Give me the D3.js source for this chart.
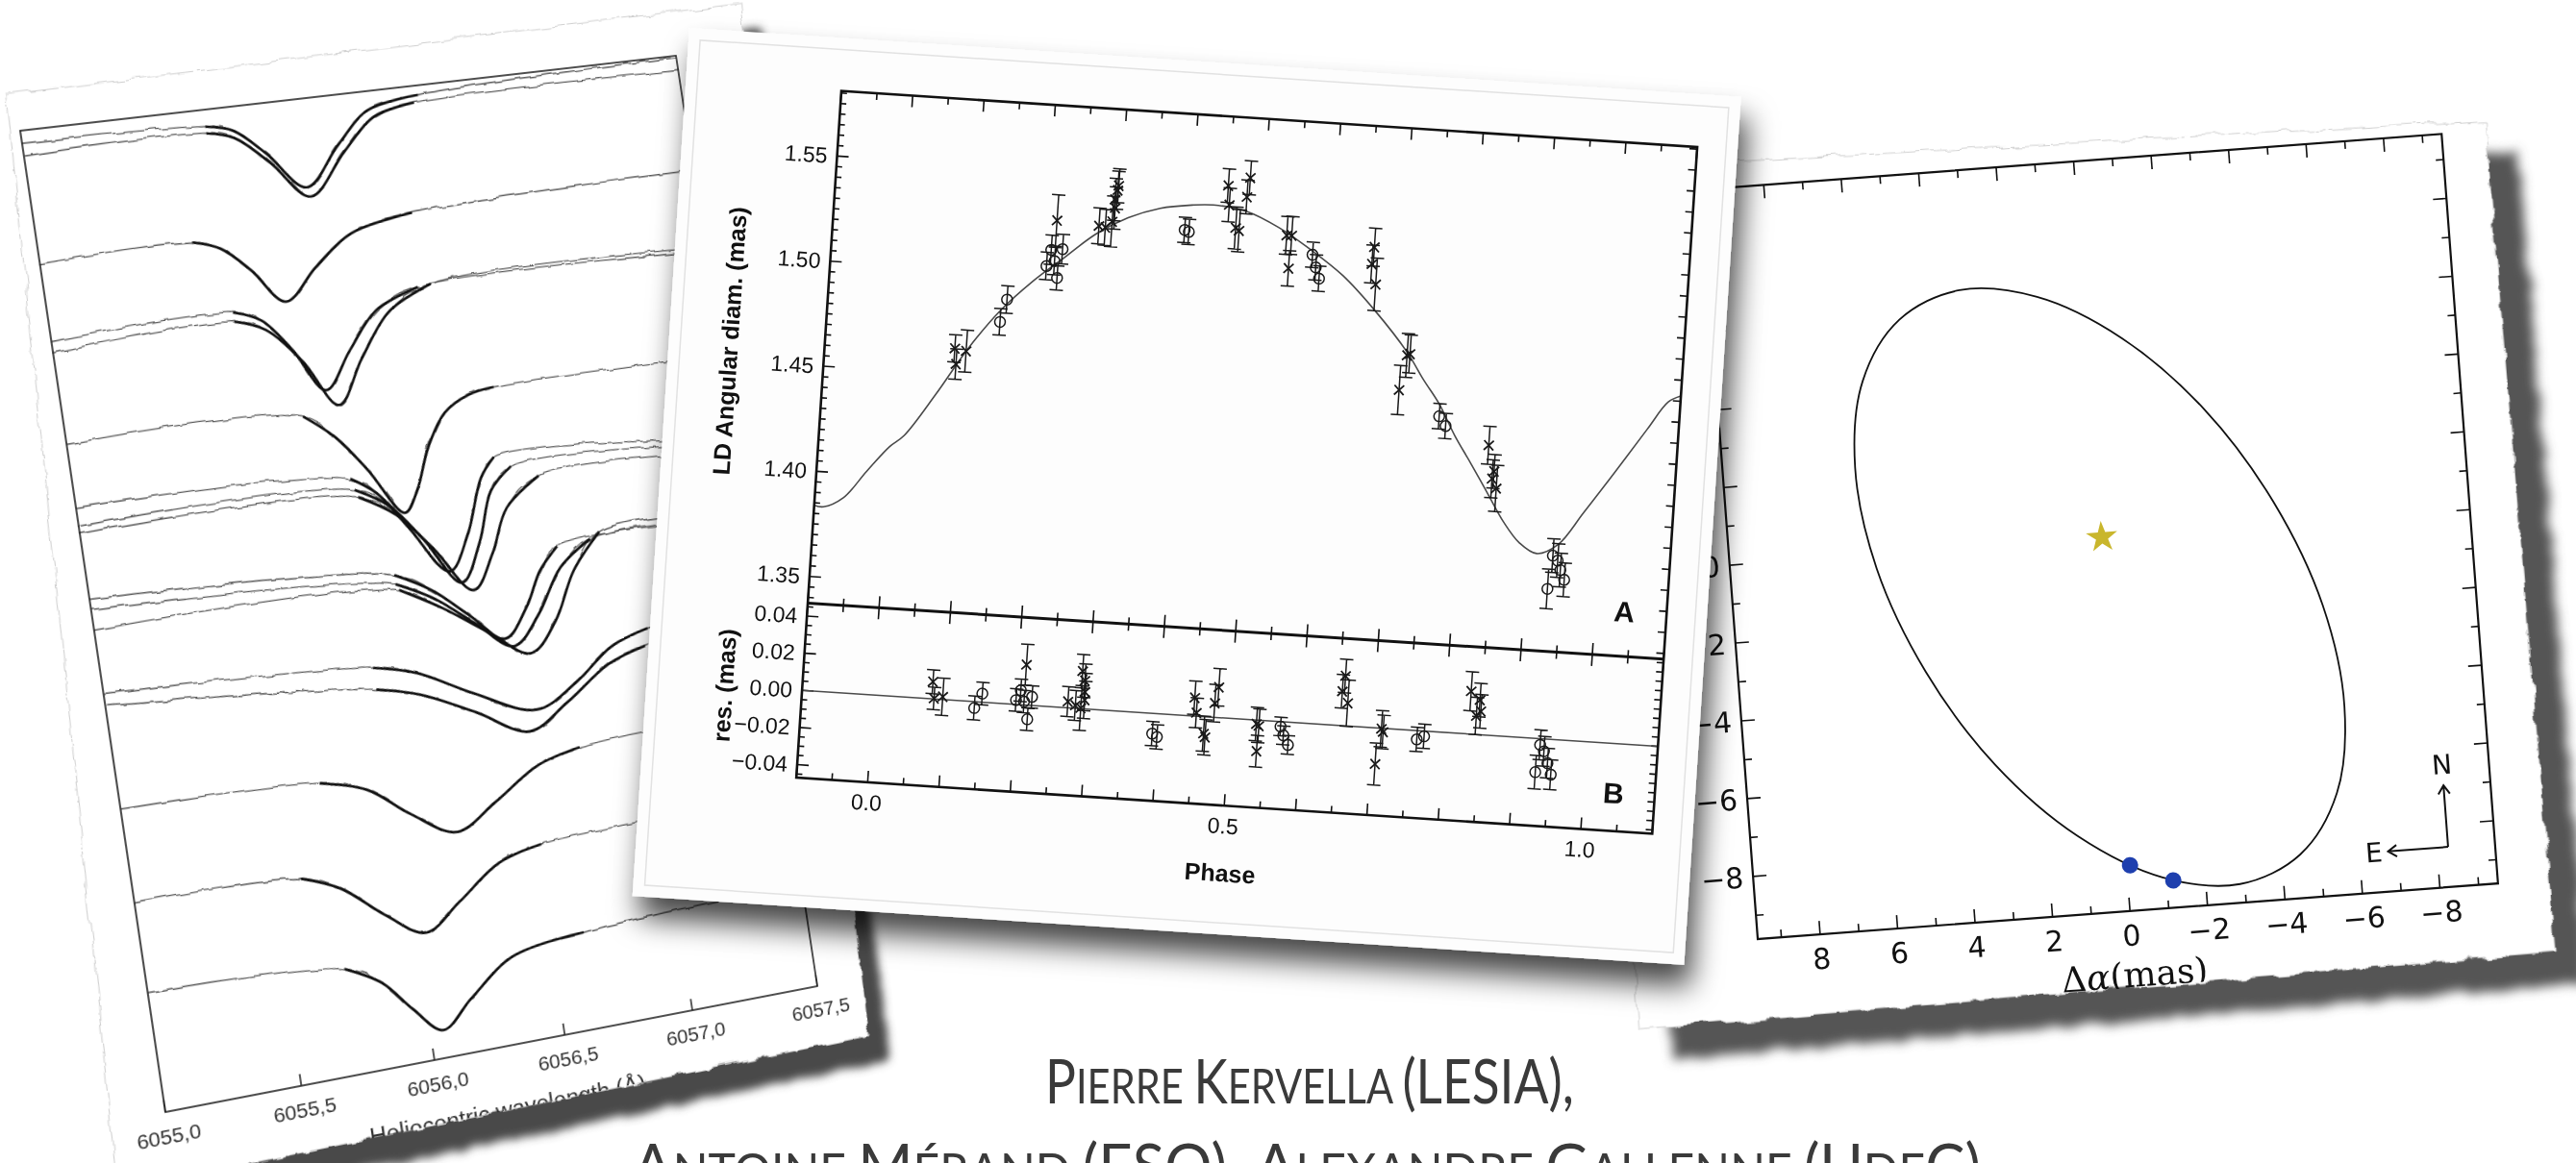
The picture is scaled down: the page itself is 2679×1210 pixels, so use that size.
<!DOCTYPE html>
<html>
<head>
<meta charset="utf-8">
<script src="https://cdn.jsdelivr.net/npm/d3@7"></script>
<style>
  html, body { margin:0; padding:0; background:#ffffff; }
  body { width:2679px; height:1210px; overflow:hidden; position:relative; }
  #spectraSheet { position:absolute; left:0; top:0; transform-origin:0 0; }
  #slide { position:absolute; left:0; top:0; }
</style>
</head>
<body>
<div id="spectraSheet"></div>
<svg id="slide" width="2679" height="1210"></svg>
<script>
// ================= data =================

// Fe I 6056 Å line: fitted model segments [wavelength (Å), relative flux + offset]
const lineProfiles = [
  [[6055.67,19.65],[6055.77,19.5],[6055.88,18.95],[6056.01,18.16],[6056.15,18.95],[6056.28,19.6],[6056.48,19.8]],
  [[6055.67,19.51],[6055.77,19.35],[6055.89,18.75],[6056.02,17.96],[6056.17,18.8],[6056.3,19.45],[6056.46,19.65]],
  [[6055.56,17.32],[6055.66,17.12],[6055.76,16.6],[6055.87,15.87],[6056.0,16.5],[6056.15,17.1],[6056.39,17.37]],
  [[6055.67,15.79],[6055.77,15.55],[6055.87,14.85],[6055.97,13.95],[6056.08,14.7],[6056.2,15.45],[6056.37,15.82]],
  [[6055.67,15.6],[6055.78,15.35],[6055.9,14.6],[6056.01,13.61],[6056.12,14.5],[6056.25,15.4],[6056.42,15.85]],
  [[6055.87,13.48],[6055.98,12.95],[6056.08,12.2],[6056.195,11.21],[6056.25,11.6],[6056.32,12.5],[6056.40,13.15],[6056.5,13.45],[6056.6,13.54]],
  [[6056.01,12.07],[6056.1,11.7],[6056.2,10.9],[6056.33,9.87],[6056.42,10.6],[6056.5,11.7],[6056.56,12.09]],
  [[6056.02,11.83],[6056.14,11.4],[6056.25,10.6],[6056.37,9.60],[6056.46,10.4],[6056.53,11.4],[6056.62,11.85]],
  [[6056.03,11.67],[6056.16,11.2],[6056.28,10.4],[6056.41,9.41],[6056.5,10.1],[6056.58,11.0],[6056.72,11.57]],
  [[6056.12,9.97],[6056.25,9.55],[6056.38,8.9],[6056.50,8.31],[6056.6,8.9],[6056.67,9.6],[6056.75,10.05]],
  [[6056.12,9.78],[6056.26,9.35],[6056.4,8.7],[6056.53,8.13],[6056.64,8.7],[6056.75,9.6],[6056.88,10.1]],
  [[6056.13,9.65],[6056.28,9.15],[6056.44,8.5],[6056.59,7.93],[6056.7,8.5],[6056.8,9.5],[6056.92,10.22]],
  [[6055.99,8.15],[6056.15,7.9],[6056.35,7.3],[6056.58,6.75],[6056.75,7.2],[6056.9,7.8],[6057.05,8.06]],
  [[6055.99,7.7],[6056.15,7.45],[6056.35,6.9],[6056.54,6.33],[6056.7,6.8],[6056.88,7.45],[6057.03,7.7]],
  [[6055.73,5.99],[6055.9,5.7],[6056.05,5.05],[6056.21,4.53],[6056.37,5.0],[6056.55,5.6],[6056.72,5.83]],
  [[6055.61,4.14],[6055.75,3.8],[6055.9,3.1],[6056.04,2.60],[6056.18,3.1],[6056.35,3.75],[6056.52,3.98]],
  [[6055.72,2.17],[6055.85,1.75],[6055.95,1.1],[6056.05,0.57],[6056.17,1.1],[6056.35,1.8],[6056.63,2.02]]
];
// observed spectrum continuum at 6055.0 Å and 6057.5 Å (same order as above)
const continuumEnds = [[19.74,19.96],[19.48,19.68],[17.27,17.53],[15.68,15.78],[15.45,15.86],[13.58,13.55],
  [12.29,11.71],[11.91,11.63],[11.76,11.47],[10.42,10.05],[10.21,10.1],[9.79,10.22],[8.5,8.3],[8.27,7.9],
  [6.15,6.0],[4.26,4.1],[2.42,2.2]];
const wavelengthTicks = [6055.0, 6055.5, 6056.0, 6056.5, 6057.0, 6057.5];

// Limb-darkened angular diameter vs pulsation phase
const diamModel = [[-0.1,1.3838],[-0.087,1.3834],[-0.06,1.3883],[-0.03,1.4015],[0.0,1.414],[0.019,1.4196],
  [0.06,1.4404],[0.1,1.4626],[0.142,1.4818],[0.184,1.4965],[0.226,1.5088],[0.269,1.5212],[0.312,1.5298],
  [0.356,1.5353],[0.4,1.5378],[0.43,1.5385],[0.477,1.5365],[0.523,1.5299],[0.57,1.5203],[0.617,1.5091],
  [0.665,1.4935],[0.714,1.4747],[0.739,1.4623],[0.763,1.4514],[0.788,1.4367],[0.813,1.424],[0.839,1.4104],
  [0.864,1.3973],[0.888,1.3879],[0.913,1.3834],[0.942,1.3883],[0.975,1.4043],[1.016,1.425],[1.056,1.4457],
  [1.083,1.4593],[1.1,1.4625]];
// [phase, diameter (mas), error, marker]
const diamObs = [
  [0.082,1.4625,0.0065,'x'],[0.098,1.4616,0.0100,'x'],[0.085,1.4551,0.0072,'x'],
  [0.1504,1.4873,0.0065,'o'],[0.1426,1.4765,0.0063,'o'],
  [0.213,1.5263,0.0122,'x'],[0.2076,1.5122,0.0070,'o'],[0.2233,1.5129,0.0070,'o'],[0.2024,1.5044,0.0065,'o'],
  [0.2182,1.4991,0.0058,'o'],[0.2132,1.5070,0.0065,'o'],
  [0.272,1.5250,0.0085,'x'],[0.281,1.5245,0.0085,'x'],[0.290,1.5275,0.0120,'x'],[0.293,1.5340,0.0100,'x'],
  [0.295,1.5425,0.0090,'x'],[0.296,1.5447,0.0080,'x'],[0.292,1.5380,0.0100,'x'],
  [0.392,1.5258,0.0060,'o'],[0.398,1.5250,0.0060,'o'],
  [0.449,1.5481,0.0080,'x'],[0.452,1.5390,0.0080,'x'],[0.463,1.5283,0.0100,'x'],[0.468,1.5271,0.0100,'x'],
  [0.476,1.5433,0.0080,'x'],[0.479,1.5525,0.0080,'x'],
  [0.535,1.5263,0.0090,'x'],[0.542,1.5265,0.0090,'x'],[0.5405,1.5108,0.0084,'x'],
  [0.5728,1.5180,0.0060,'o'],[0.5784,1.5121,0.0060,'o'],[0.584,1.5069,0.0060,'o'],
  [0.6585,1.5235,0.0090,'x'],[0.6565,1.5154,0.0090,'x'],[0.6637,1.5059,0.0125,'x'],
  [0.714,1.4732,0.0104,'x'],[0.706,1.4566,0.0117,'x'],[0.718,1.4740,0.0090,'x'],
  [0.7644,1.4454,0.0060,'o'],[0.7742,1.4410,0.0060,'o'],
  [0.8363,1.4332,0.0090,'x'],[0.8439,1.4174,0.0090,'x'],[0.8506,1.4130,0.0110,'x'],[0.846,1.4210,0.0080,'x'],
  [0.9359,1.3829,0.0080,'o'],[0.9431,1.3807,0.0080,'o'],[0.9476,1.3763,0.0080,'o'],[0.9539,1.3718,0.0080,'o'],
  [0.9313,1.3670,0.0094,'o']
];
// [phase, residual (mas), error, marker]
const resObs = [
  [0.082,0.0092,0.0064,'x'],[0.097,0.0015,0.0100,'x'],[0.085,0.0003,0.0060,'x'],
  [0.152,0.0046,0.0060,'o'],[0.142,-0.0034,0.0064,'o'],
  [0.211,0.0216,0.0110,'x'],[0.2054,0.0077,0.0060,'o'],[0.1996,0.0023,0.0060,'o'],[0.2109,0.0018,0.0060,'o'],
  [0.2217,0.0046,0.0060,'o'],[0.217,-0.0076,0.0060,'o'],
  [0.2722,0.0033,0.0080,'x'],[0.2829,0.0015,0.0080,'x'],[0.290,0.0201,0.0090,'x'],[0.294,0.0151,0.0090,'x'],
  [0.2951,0.0091,0.0100,'x'],[0.2955,0.0048,0.0100,'x'],[0.2907,0.0003,0.0120,'x'],
  [0.3928,-0.0109,0.0065,'o'],[0.3996,-0.0125,0.0065,'o'],
  [0.449,0.0098,0.0090,'x'],[0.4526,0.0018,0.0080,'x'],[0.4644,-0.0091,0.0095,'x'],[0.4668,-0.0110,0.0095,'x'],
  [0.4774,0.0076,0.0100,'x'],[0.4817,0.0163,0.0100,'x'],
  [0.5374,-0.0021,0.0090,'x'],[0.541,-0.0030,0.0090,'x'],[0.540,-0.0167,0.0085,'x'],
  [0.5713,-0.0026,0.0050,'o'],[0.576,-0.0072,0.0050,'o'],[0.5833,-0.0122,0.0050,'o'],
  [0.6575,0.0268,0.0090,'x'],[0.6544,0.0184,0.0090,'x'],[0.663,0.0123,0.0125,'x'],
  [0.7124,-0.0003,0.0098,'x'],[0.7067,-0.0194,0.0113,'x'],[0.715,-0.0019,0.0090,'x'],
  [0.7627,-0.0047,0.0065,'o'],[0.7726,-0.0028,0.0065,'o'],
  [0.8343,0.0230,0.0105,'x'],[0.8474,0.0186,0.0090,'x'],[0.8496,0.0126,0.0090,'x'],[0.8437,0.0099,0.0100,'x'],
  [0.9354,-0.0033,0.0080,'o'],[0.9413,-0.0066,0.0080,'o'],[0.9473,-0.0129,0.0080,'o'],[0.9529,-0.0189,0.0080,'o'],
  [0.9311,-0.0181,0.0090,'o']
];
const diamTicks = [1.35, 1.40, 1.45, 1.50, 1.55];
const resTicks = [-0.04, -0.02, 0.00, 0.02, 0.04];
const phaseTicks = [0.0, 0.5, 1.0];

// Companion orbit: relative astrometry [Δα, Δδ] in mas
const orbitTrack = [[6.20,2.25],[5.84,4.45],[4.78,5.95],[3.18,6.59],[1.20,6.27],[-0.90,5.05],[-2.88,3.07],
  [-4.48,0.56],[-5.54,-2.17],[-5.90,-4.79],[-5.54,-6.99],[-4.48,-8.49],[-2.88,-9.13],[-0.90,-8.81],
  [1.20,-7.59],[3.18,-5.61],[4.78,-3.10],[5.84,-0.37]];
const orbitEpochs = [[-0.09,-8.44],[-1.17,-8.91]];
const primaryPos = [0, 0];
const orbitTicks = [-8, -6, -4, -2, 0, 2, 4, 6, 8];

// ================= helpers =================
const fmtMinus = s => s.replace('-', '\u2212');

function tornFilter(defs, id, scale, blur) {
  const f = defs.append('filter').attr('id', id)
    .attr('x', '-8%').attr('y', '-8%').attr('width', '116%').attr('height', '116%');
  f.append('feTurbulence').attr('type', 'fractalNoise').attr('baseFrequency', 0.04)
    .attr('numOctaves', 4).attr('seed', 5).attr('result', 'n');
  f.append('feDisplacementMap').attr('in', 'SourceGraphic').attr('in2', 'n').attr('scale', scale)
    .attr('xChannelSelector', 'R').attr('yChannelSelector', 'G').attr('result', 'd');
  if (blur) f.append('feGaussianBlur').attr('in', 'd').attr('stdDeviation', blur);
}

// projective map of a w×h rectangle at (x0,y0) onto a quadrilateral (TL, TR, BR, BL)
function quadMatrix(q, x0, y0, w, h) {
  const [[X0,Y0],[X1,Y1],[X2,Y2],[X3,Y3]] = q;
  const dx1 = X1 - X2, dx2 = X3 - X2, dx3 = X0 - X1 + X2 - X3;
  const dy1 = Y1 - Y2, dy2 = Y3 - Y2, dy3 = Y0 - Y1 + Y2 - Y3;
  const den = dx1 * dy2 - dx2 * dy1;
  const g = (dx3 * dy2 - dx2 * dy3) / den, hh = (dx1 * dy3 - dx3 * dy1) / den;
  const a = X1 - X0 + g * X1, b = X3 - X0 + hh * X3, c = X0;
  const d = Y1 - Y0 + g * Y1, e = Y3 - Y0 + hh * Y3, f = Y0;
  const m = [
    [a / w, b / h, c - a * x0 / w - b * y0 / h],
    [d / w, e / h, f - d * x0 / w - e * y0 / h],
    [g / w, hh / h, 1 - g * x0 / w - hh * y0 / h]
  ];
  return `matrix3d(${m[0][0]},${m[1][0]},0,${m[2][0]},${m[0][1]},${m[1][1]},0,${m[2][1]},0,0,1,0,${m[0][2]},${m[1][2]},0,${m[2][2]})`;
}

function segs(g, list) {
  return g.selectAll(null).data(list).join('line')
    .attr('x1', d => d[0]).attr('y1', d => d[1]).attr('x2', d => d[2]).attr('y2', d => d[3]);
}

// ================= spectra sheet (left) =================
(function () {
  const W = 690, H = 1000, M = 160;
  const quad = [[21, 136], [703, 58], [850, 1026], [172, 1157]];
  const div = d3.select('#spectraSheet')
    .style('width', (W + 2 * M) + 'px').style('height', (H + 2 * M) + 'px')
    .style('transform', quadMatrix(quad, M, M, W, H));
  const svg = div.append('svg').attr('width', W + 2 * M).attr('height', H + 2 * M);
  const defs = svg.append('defs');
  tornFilter(defs, 'tornL', 9, 0);
  tornFilter(defs, 'tornShadowL', 9, 5);
  const wig = defs.append('filter').attr('id', 'wiggle').attr('x', '-2%').attr('y', '-2%')
    .attr('width', '104%').attr('height', '104%');
  wig.append('feTurbulence').attr('type', 'fractalNoise').attr('baseFrequency', '0.06 0.03')
    .attr('numOctaves', 2).attr('seed', 11).attr('result', 'n');
  wig.append('feDisplacementMap').attr('in', 'SourceGraphic').attr('in2', 'n').attr('scale', 6)
    .attr('xChannelSelector', 'R').attr('yChannelSelector', 'G');

  const paper = [[M - 8, M - 38], [M + W + 80, M - 48], [M + W + 48, M + H + 62], [M - 58, M + H + 68]];
  const paperPath = 'M' + paper.map(p => p.join(',')).join('L') + 'Z';
  const shadowPath = 'M' + paper.map(p => [p[0] + 18, p[1] + 30].join(',')).join('L') + 'Z';
  svg.append('path').attr('d', shadowPath).attr('fill', '#4a4a4a').attr('filter', 'url(#tornShadowL)');
  svg.append('path').attr('d', paperPath).attr('fill', '#ffffff').attr('stroke', '#cfcfcf')
    .attr('stroke-width', 1).attr('filter', 'url(#tornL)');
  defs.append('clipPath').attr('id', 'paperClipL').append('path').attr('d', paperPath);

  const g = svg.append('g').attr('clip-path', 'url(#paperClipL)');
  const x = d3.scaleLinear([6055.0, 6057.5], [M, M + W]);
  const y = d3.scaleLinear([0, 20], [M + H, M]);
  const line = d3.line().x(d => x(d[0])).y(d => y(d[1])).curve(d3.curveCatmullRom.alpha(0.5));

  const thin = g.append('g').attr('filter', 'url(#wiggle)');
  thin.selectAll('path').data(lineProfiles).join('path')
    .attr('d', (p, i) => line([[6055.0, continuumEnds[i][0]], ...p, [6057.5, continuumEnds[i][1]]]))
    .attr('fill', 'none').attr('stroke', '#5a5a5a').attr('stroke-width', 1.3);
  g.append('g').selectAll('path').data(lineProfiles).join('path')
    .attr('d', line).attr('fill', 'none').attr('stroke', '#111').attr('stroke-width', 2.7);

  g.append('rect').attr('x', M).attr('y', M).attr('width', W).attr('height', H)
    .attr('fill', 'none').attr('stroke', '#222').attr('stroke-width', 1.6);
  segs(g, wavelengthTicks.map(t => [x(t), M + H, x(t), M + H - 12]))
    .attr('stroke', '#222').attr('stroke-width', 1.5);
  g.append('g').selectAll('text').data(wavelengthTicks).join('text')
    .attr('x', d => x(d)).attr('y', M + H + 32).attr('text-anchor', 'middle')
    .attr('font-family', '"Liberation Sans", Arial, sans-serif').attr('font-size', 21).attr('fill', '#333')
    .text(d => d.toFixed(1).replace('.', ','));
  g.append('text').attr('x', M + W / 2).attr('y', M + H + 73).attr('text-anchor', 'middle')
    .attr('font-family', '"Liberation Sans", Arial, sans-serif').attr('font-size', 24).attr('fill', '#333')
    .text('Heliocentric wavelength (Å)');
})();

// ================= slide layer =================
const slide = d3.select('#slide');
const defs = slide.append('defs');
const cs = defs.append('filter').attr('id', 'cardShadow')
  .attr('x', '-15%').attr('y', '-15%').attr('width', '135%').attr('height', '135%');
cs.append('feDropShadow').attr('dx', 8).attr('dy', 22).attr('stdDeviation', 15)
  .attr('flood-color', '#000').attr('flood-opacity', 0.72);
tornFilter(defs, 'tornR', 10, 0);
tornFilter(defs, 'tornShadowR', 10, 6);

// ---------- orbit sheet (right) ----------
(function () {
  const RW = 772, RH = 782;
  const g0 = slide.append('g').attr('transform', 'translate(1769.4,197.2) rotate(-4.3)');
  const paper = [[-130, -30], [818, -10], [826, 858], [-130, 866]];
  const paperPath = 'M' + paper.map(p => p.join(',')).join('L') + 'Z';
  const shadowPath = 'M' + paper.map(p => [p[0] + 32, p[1] + 34].join(',')).join('L') + 'Z';
  g0.append('path').attr('d', shadowPath).attr('fill', '#555').attr('filter', 'url(#tornShadowR)');
  g0.append('path').attr('d', paperPath).attr('fill', '#ffffff').attr('stroke', '#d0d0d0')
    .attr('stroke-width', 1).attr('filter', 'url(#tornR)');
  defs.append('clipPath').attr('id', 'paperClipR').append('path').attr('d', paperPath);
  const g = g0.append('g').attr('clip-path', 'url(#paperClipR)');

  const x = d3.scaleLinear([9.61, -9.5], [0, RW]);
  const y = d3.scaleLinear([9.66, -9.61], [0, RH]);
  const ks = d3.range(-9, 10);
  const len = k => (k % 2 === 0 ? 14 : 8);
  const ax = g.append('g').attr('stroke', '#111').attr('stroke-width', 1.6);
  segs(ax, ks.map(k => [x(k), RH, x(k), RH - len(k)]));
  segs(ax, ks.map(k => [x(k), 0, x(k), len(k)]));
  segs(ax, ks.map(k => [0, y(k), len(k), y(k)]));
  segs(ax, ks.map(k => [RW, y(k), RW - len(k), y(k)]));
  g.append('rect').attr('width', RW).attr('height', RH).attr('fill', 'none')
    .attr('stroke', '#111').attr('stroke-width', 2.2);

  const font = '"DejaVu Sans", sans-serif';
  g.append('g').selectAll('text').data(orbitTicks).join('text')
    .attr('x', d => x(d)).attr('y', RH + 36).attr('text-anchor', 'middle')
    .attr('font-family', font).attr('font-size', 30).attr('fill', '#111')
    .text(d => fmtMinus(String(d)));
  g.append('g').selectAll('text').data(orbitTicks).join('text')
    .attr('x', -10).attr('y', d => y(d) + 11).attr('text-anchor', 'end')
    .attr('font-family', font).attr('font-size', 30).attr('fill', '#111')
    .text(d => fmtMinus(String(d)));
  const lab = g.append('text').attr('x', x(0)).attr('y', RH + 79).attr('text-anchor', 'middle')
    .attr('font-family', '"DejaVu Serif", "Liberation Serif", serif').attr('font-size', 36).attr('fill', '#111');
  lab.append('tspan').text('Δ');
  lab.append('tspan').attr('font-style', 'italic').text('α');
  lab.append('tspan').text('(mas)');

  g.append('path').datum(orbitTrack)
    .attr('d', d3.line().x(d => x(d[0])).y(d => y(d[1])).curve(d3.curveCatmullRomClosed.alpha(0.5)))
    .attr('fill', 'none').attr('stroke', '#111').attr('stroke-width', 1.8);
  g.append('path').attr('d', d3.symbol(d3.symbolStar, 330)())
    .attr('transform', `translate(${x(primaryPos[0])},${y(primaryPos[1])})`).attr('fill', '#c9b62c');
  g.selectAll('circle.ep').data(orbitEpochs).join('circle').attr('class', 'ep')
    .attr('cx', d => x(d[0])).attr('cy', d => y(d[1])).attr('r', 8.5).attr('fill', '#1e3fae');

  // compass
  const c0 = [x(-8.29), y(-8.58)], nTip = [x(-8.29), y(-7.0)], eTip = [x(-6.74), y(-8.58)];
  const cp = g.append('g').attr('stroke', '#111').attr('stroke-width', 2).attr('fill', 'none');
  cp.append('path').attr('d', `M${c0[0]},${c0[1]}L${nTip[0]},${nTip[1]}M${nTip[0] - 6},${nTip[1] + 9}L${nTip[0]},${nTip[1]}L${nTip[0] + 6},${nTip[1] + 9}`);
  cp.append('path').attr('d', `M${c0[0]},${c0[1]}L${eTip[0]},${eTip[1]}M${eTip[0] + 9},${eTip[1] - 6}L${eTip[0]},${eTip[1]}L${eTip[0] + 9},${eTip[1] + 6}`);
  g.append('text').attr('x', nTip[0]).attr('y', nTip[1] - 12).attr('text-anchor', 'middle')
    .attr('font-family', font).attr('font-size', 28).attr('fill', '#111').text('N');
  g.append('text').attr('x', eTip[0] - 6).attr('y', eTip[1] + 10).attr('text-anchor', 'end')
    .attr('font-family', font).attr('font-size', 28).attr('fill', '#111').text('E');
})();

// ---------- angular diameter card (centre) ----------
(function () {
  const PW = 892, PH = 716, PA = 534;
  const x = d3.scaleLinear([-0.1, 1.1], [0, PW]);
  const yA = d3.scaleLinear([1.3373, 1.581], [PA, 0]);
  const yB = d3.scaleLinear([-0.047, 0.047], [PH, PA]);
  const card = slide.append('g').attr('transform', 'translate(875,94.6) rotate(3.75)');
  card.append('rect').attr('x', -162).attr('y', -55).attr('width', 1096).attr('height', 905)
    .attr('fill', '#fdfdfd').attr('filter', 'url(#cardShadow)');
  card.append('rect').attr('x', -150).attr('y', -43).attr('width', 1072).attr('height', 881)
    .attr('fill', 'none').attr('stroke', '#e2e2e2').attr('stroke-width', 1.5);

  defs.append('clipPath').attr('id', 'clipA').append('rect').attr('width', PW).attr('height', PA);
  defs.append('clipPath').attr('id', 'clipB').append('rect').attr('y', PA).attr('width', PW).attr('height', PH - PA);

  const font = '"Liberation Sans", Arial, Helvetica, sans-serif';
  const ax = card.append('g').attr('stroke', '#111').attr('stroke-width', 1.6);
  // vertical-axis ticks
  const aL = d3.range(268, 317).map(k => { const v = k / 200, L = k % 10 === 0 ? 12 : 6; return [0, yA(v), L, yA(v)]; })
    .filter(d => d[1] >= 0 && d[1] <= PA);
  const aR = d3.range(134, 159).map(k => [PW, yA(k / 100), PW - 8, yA(k / 100)]).filter(d => d[1] >= 0 && d[1] <= PA);
  const bL = d3.range(-9, 10).map(k => [0, yB(k / 200), k % 4 === 0 ? 12 : 6, yB(k / 200)]);
  const bR = d3.range(-9, 10).map(k => [PW, yB(k / 200), PW - 7, yB(k / 200)]);
  segs(ax, aL.concat(aR, bL, bR));
  // phase ticks
  const ph = d3.range(-2, 23).map(k => [x(k / 20), k % 2 === 0 ? 12 : 7]);
  segs(ax, ph.map(([p, L]) => [p, 0, p, L]));
  segs(ax, ph.map(([p, L]) => [p, PA, p, PA - L]));
  segs(ax, ph.map(([p, L]) => [p, PA, p, PA + L]));
  segs(ax, ph.map(([p, L]) => [p, PH, p, PH - L]));

  // model curve and zero line
  card.append('path').datum(diamModel).attr('clip-path', 'url(#clipA)')
    .attr('d', d3.line().x(d => x(d[0])).y(d => yA(d[1])).curve(d3.curveCatmullRom.alpha(0.5)))
    .attr('fill', 'none').attr('stroke', '#4a4a4a').attr('stroke-width', 1.6);
  card.append('line').attr('x1', 0).attr('x2', PW).attr('y1', yB(0)).attr('y2', yB(0))
    .attr('stroke', '#4a4a4a').attr('stroke-width', 1.5);

  function drawObs(data, y, clip) {
    const g = card.append('g').attr('clip-path', clip).attr('stroke', '#1a1a1a')
      .attr('stroke-width', 1.5).attr('fill', 'none');
    const pts = g.selectAll('g').data(data).join('g');
    pts.append('path').attr('d', ([p, v, e]) => {
      const cx = x(p), t = y(v + e), b = y(v - e);
      return `M${cx},${t}L${cx},${b}M${cx - 7},${t}L${cx + 7},${t}M${cx - 7},${b}L${cx + 7},${b}`;
    });
    pts.filter(d => d[3] === 'o').append('circle')
      .attr('cx', d => x(d[0])).attr('cy', d => y(d[1])).attr('r', 5.5);
    pts.filter(d => d[3] === 'x').append('path').attr('d', ([p, v]) => {
      const cx = x(p), cy = y(v), s = 5;
      return `M${cx - s},${cy - s}L${cx + s},${cy + s}M${cx - s},${cy + s}L${cx + s},${cy - s}`;
    }).attr('stroke-width', 1.8);
  }
  drawObs(diamObs, yA, 'url(#clipA)');
  drawObs(resObs, yB, 'url(#clipB)');

  // frame and panel divider
  card.append('rect').attr('width', PW).attr('height', PH).attr('fill', 'none')
    .attr('stroke', '#111').attr('stroke-width', 2.6);
  card.append('line').attr('x1', 0).attr('x2', PW).attr('y1', PA).attr('y2', PA)
    .attr('stroke', '#111').attr('stroke-width', 3);

  // tick labels
  const tl = card.append('g').attr('font-family', font).attr('font-size', 23).attr('fill', '#111');
  tl.selectAll('text.a').data(diamTicks).join('text').attr('class', 'a')
    .attr('x', -10).attr('y', d => yA(d) + 8).attr('text-anchor', 'end').text(d => d.toFixed(2));
  tl.selectAll('text.b').data(resTicks).join('text').attr('class', 'b')
    .attr('x', -10).attr('y', d => yB(d) + 8).attr('text-anchor', 'end').text(d => fmtMinus(d.toFixed(2)));
  tl.selectAll('text.p').data(phaseTicks).join('text').attr('class', 'p')
    .attr('x', d => x(d)).attr('y', PH + 29).attr('text-anchor', 'middle').text(d => d.toFixed(1));

  const bold = card.append('g').attr('font-family', font).attr('font-weight', 'bold').attr('fill', '#111');
  bold.append('text').attr('transform', 'translate(-90,267) rotate(-90)').attr('text-anchor', 'middle')
    .attr('font-size', 25).text('LD Angular diam. (mas)');
  bold.append('text').attr('transform', `translate(-72,${(PA + PH) / 2}) rotate(-90)`).attr('text-anchor', 'middle')
    .attr('font-size', 25).text('res. (mas)');
  bold.append('text').attr('x', x(0.5)).attr('y', PH + 79).attr('text-anchor', 'middle')
    .attr('font-size', 25).text('Phase');
  bold.append('text').attr('x', 848).attr('y', 498).attr('text-anchor', 'middle').attr('font-size', 30).text('A');
  bold.append('text').attr('x', 849).attr('y', 687).attr('text-anchor', 'middle').attr('font-size', 30).text('B');
})();

// ---------- credits ----------
(function () {
  const g = slide.append('g').attr('fill', '#3a3a3a').attr('font-family', 'Lato, "Open Sans", sans-serif');
  function creditLine(parts, x, y, width) {
    const t = g.append('text').attr('x', x).attr('y', y);
    parts.forEach(([s, big]) => t.append('tspan').attr('font-size', big ? 64 : 50).text(s));
    const w = t.node().getComputedTextLength();
    t.attr('transform', `translate(${x},${y}) scale(${width / w},1) translate(${-x},${-y})`);
  }
  creditLine([['P', 1], ['IERRE ', 0], ['K', 1], ['ERVELLA ', 0], ['(LESIA),', 1]], 1087, 1148, 550);
  creditLine([['A', 1], ['NTOINE ', 0], ['M', 1], ['ÉRAND ', 0], ['(ESO), ', 1], ['A', 1], ['LEXANDRE ', 0],
    ['G', 1], ['ALLENNE ', 0], ['(U', 1], ['DE', 0], ['C)', 1]], 658, 1236, 1400);
})();
</script>
</body>
</html>
